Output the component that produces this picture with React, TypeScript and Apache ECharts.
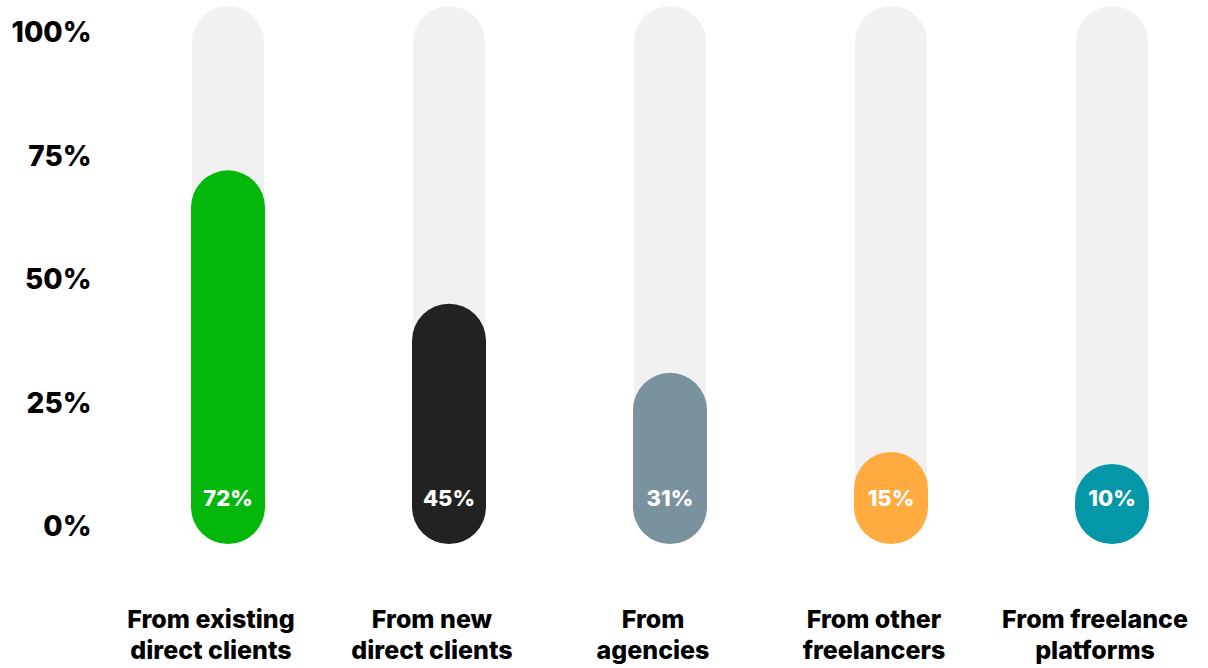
import React, { useEffect, useRef } from "react";
import * as echarts from "echarts";

const categories = [
  "From existing\ndirect clients",
  "From new\ndirect clients",
  "From\nagencies",
  "From other\nfreelancers",
  "From freelance\nplatforms",
];
const values = [72, 45, 31, 15, 10];
const barColors = ["#03b80b", "#222222", "#7a929e", "#ffab40", "#0397a7"];
const trackMax = 100;

const FONT = "Inter, 'Open Sans', sans-serif";

export default function App() {
  const ref = useRef<HTMLDivElement>(null);
  useEffect(() => {
    document.body.style.margin = "0";
    const chart = echarts.init(ref.current!, null, { renderer: "svg" });
    chart.setOption({
      animation: false,
      grid: { left: 117.5, top: 32, right: -14.5, height: 494, outerBoundsMode: "none", containLabel: false },
      xAxis: {
        type: "category",
        data: categories,
        axisLine: { show: false },
        axisTick: { show: false },
        splitLine: { show: false },
        axisLabel: {
          interval: 0,
          margin: 78,
          fontFamily: FONT,
          fontWeight: 800,
          fontSize: 25,
          lineHeight: 30.5,
          color: "#000",
          padding: [0, 34, 0, 0],
        },
      },
      yAxis: {
        type: "value",
        min: 0,
        max: 100,
        interval: 25,
        axisLine: { show: false },
        axisTick: { show: false },
        splitLine: { show: false },
        axisLabel: {
          formatter: "{value}%",
          margin: 26,
          fontFamily: FONT,
          fontWeight: 800,
          fontSize: 28,
          color: "#000",
        },
      },
      series: [
        {
          type: "custom",
          clip: false,
          silent: true,
          encode: { x: 0, y: 1 },
          data: values.map((_, i) => [i, trackMax]),
          renderItem: (params: any, api: any) => {
            const idx = api.value(0);
            const [x, yTop] = api.coord([idx, api.value(1)]);
            const yBase = api.coord([idx, 0])[1];
            const w = 72;
            const top = yTop - 26;
            const bottom = yBase + 18;
            return {
              type: "rect",
              shape: { x: x - w / 2, y: top, width: w, height: bottom - top, r: w / 2 },
              style: { fill: "#f1f1f1" },
            };
          },
        },
        {
          type: "custom",
          clip: false,
          encode: { x: 0, y: 1 },
          data: values.map((v, i) => [i, v]),
          renderItem: (params: any, api: any) => {
            const idx = api.value(0);
            const v = api.value(1);
            const [x, yv] = api.coord([idx, v]);
            const yBase = api.coord([idx, 0])[1];
            const w = 74;
            const bottom = yBase + 18;
            let top = yv;
            if (bottom - top < 80) top = bottom - 80;
            const h = bottom - top;
            return {
              type: "group",
              children: [
                {
                  type: "rect",
                  shape: { x: x - w / 2, y: top, width: w, height: h, r: Math.min(w / 2, h / 2) },
                  style: { fill: barColors[idx] },
                },
                {
                  type: "text",
                  x: x,
                  y: yBase - 28,
                  style: {
                    text: v + "%",
                    fill: "#ffffff",
                    fontFamily: FONT,
                    fontWeight: 800,
                    fontSize: 22,
                    align: "center",
                    verticalAlign: "middle",
                  },
                },
              ],
            };
          },
        },
      ],
    });
    return () => chart.dispose();
  }, []);
  return <div ref={ref} style={{ width: 1208, height: 668 }} />;
}
